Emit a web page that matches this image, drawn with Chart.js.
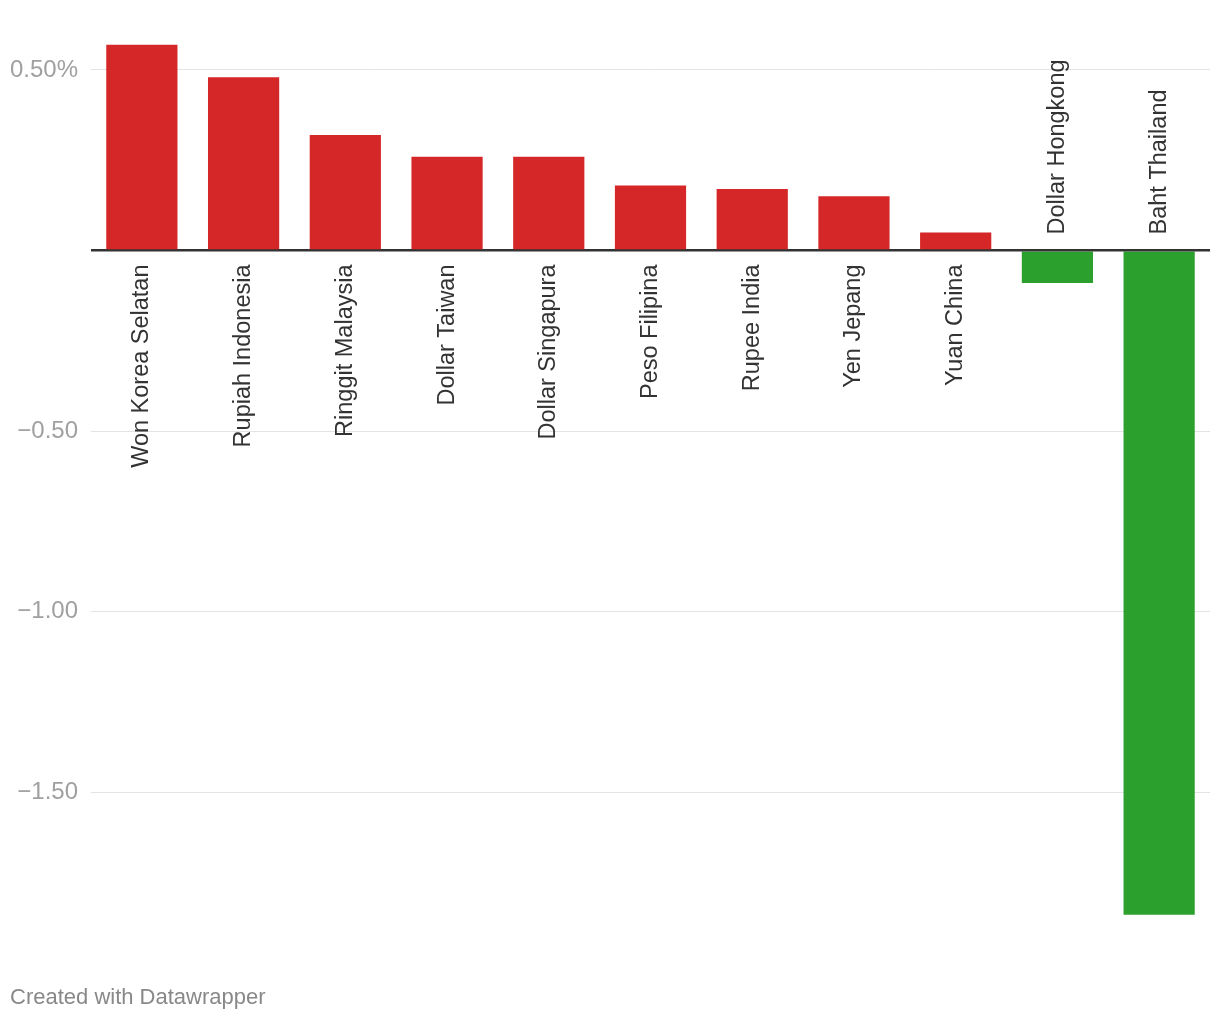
<!DOCTYPE html>
<html>
<head>
<meta charset="utf-8">
<script src="https://cdn.jsdelivr.net/npm/chart.js@4"></script>
<style>
    body { margin: 0; background: #fff; }
    #wrap { position: relative; width: 1220px; height: 1020px; }
    #footer {
        position: absolute; left: 10px; top: 984px;
        font: 22px "Liberation Sans", Arial, sans-serif; color: #888;
    }
</style>
</head>
<body>
<div id="wrap">
    <canvas id="chart" width="1220" height="1020"></canvas>
    <div id="footer">Created with Datawrapper</div>
</div>
<script>
const categories = [
    'Won Korea Selatan', 'Rupiah Indonesia', 'Ringgit Malaysia', 'Dollar Taiwan',
    'Dollar Singapura', 'Peso Filipina', 'Rupee India', 'Yen Jepang',
    'Yuan China', 'Dollar Hongkong', 'Baht Thailand'
];
const changes = [0.57, 0.48, 0.32, 0.26, 0.26, 0.18, 0.17, 0.15, 0.05, -0.09, -1.84];
const tickValues = [0.5, 0, -0.5, -1, -1.5];

const fontFamily = '"Liberation Sans", Arial, sans-serif';

function tickLabel(v) {
    if (v === 0) return '';
    if (v > 0) return v.toFixed(2) + '%';
    return '\u2212' + Math.abs(v).toFixed(2);
}

// zero line on top of bars + category names rotated next to it
const barLabels = {
    id: 'barLabels',
    afterDatasetsDraw(chart) {
        const ctx = chart.ctx;
        const area = chart.chartArea;
        const meta = chart.getDatasetMeta(0);
        const zeroY = chart.scales.y.getPixelForValue(0);
        ctx.save();
        ctx.strokeStyle = '#333';
        ctx.lineWidth = 2;
        ctx.beginPath();
        ctx.moveTo(area.left, zeroY);
        ctx.lineTo(area.right, zeroY);
        ctx.stroke();

        ctx.font = '23.5px ' + fontFamily;
        ctx.fillStyle = '#333';
        ctx.textBaseline = 'middle';
        meta.data.forEach((bar, i) => {
            const v = changes[i];
            ctx.save();
            if (v >= 0) {
                ctx.translate(bar.x, zeroY + 14);
                ctx.rotate(-Math.PI / 2);
                ctx.textAlign = 'right';
            } else {
                ctx.translate(bar.x, zeroY - 16);
                ctx.rotate(-Math.PI / 2);
                ctx.textAlign = 'left';
            }
            ctx.fillText(categories[i], 0, 0);
            ctx.restore();
        });
        ctx.restore();
    }
};

new Chart(document.getElementById('chart'), {
    type: 'bar',
    data: {
        labels: categories,
        datasets: [{
            data: changes,
            backgroundColor: changes.map(v => v >= 0 ? '#d62728' : '#2ca02c'),
            borderWidth: 0,
            categoryPercentage: 1,
            barPercentage: 0.7
        }]
    },
    options: {
        responsive: false,
        animation: false,
        layout: { padding: { top: 31, right: 10, bottom: 89, left: 0 } },
        plugins: { legend: { display: false }, tooltip: { enabled: false } },
        scales: {
            x: { display: false },
            y: {
                min: -1.885,
                max: 0.608,
                afterBuildTicks(scale) {
                    scale.ticks = tickValues.map(v => ({ value: v }));
                },
                afterFit(scale) { scale.width = 91; },
                border: { display: false },
                grid: {
                    drawTicks: false,
                    color: c => c.tick && c.tick.value === 0 ? '#333' : '#e3e3e3',
                    lineWidth: c => c.tick && c.tick.value === 0 ? 2 : 1
                },
                ticks: {
                    padding: 13,
                    color: '#a0a0a0',
                    font: { size: 24, family: fontFamily },
                    callback: v => tickLabel(v)
                }
            }
        }
    },
    plugins: [barLabels]
});
</script>
</body>
</html>
